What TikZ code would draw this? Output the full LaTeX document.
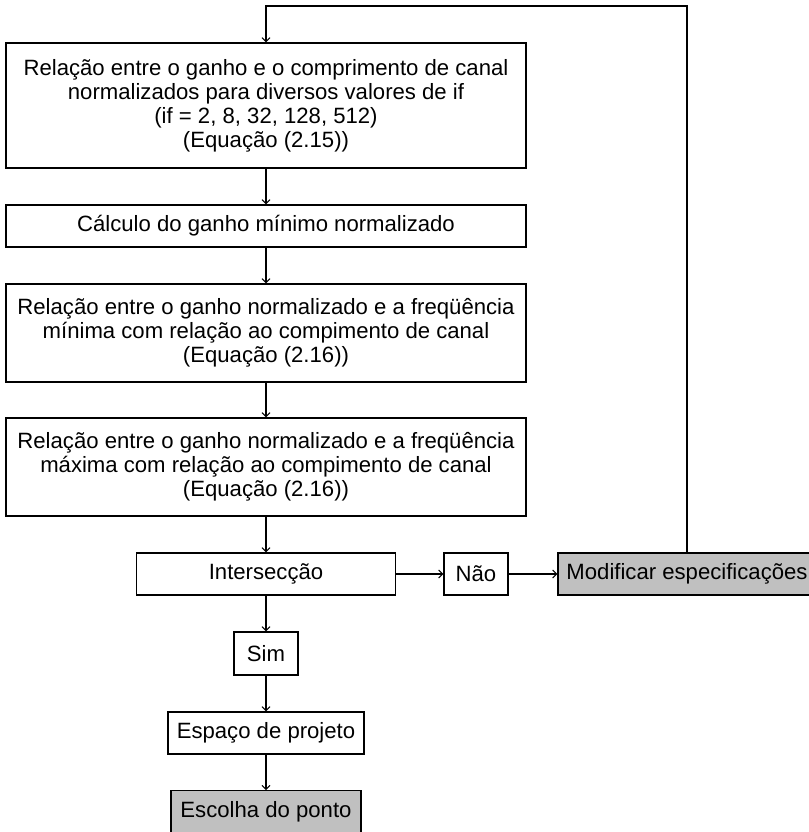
\documentclass[tikz,border=0pt]{standalone}
\usepackage{fontspec}
\setmainfont{Liberation Sans}
\usetikzlibrary{arrows.meta}
\definecolor{cinza}{RGB}{192,192,192}
\tikzset{
  caixa/.style={draw, line width=0.8pt, align=center, inner sep=0pt,
    font=\fontsize{16.6}{18}\selectfont},
  caixacinza/.style={caixa, fill=cinza},
  seta/.style={-{Straight Barb[length=3pt,width=6pt]}, line width=0.8pt}
}
\begin{document}
\begin{tikzpicture}[x=0.75pt,y=-0.75pt]
        \useasboundingbox (0,0) rectangle (808,832);

        % Coluna principal
        \node[caixa, minimum width=390pt, minimum height=93.75pt] (rel1) at (266,105.5)
            {Relação entre o ganho e o comprimento de canal\\normalizados para diversos valores de if\\(if = 2, 8, 32, 128, 512)\\(Equação (2.15))};
        \node[caixa, minimum width=390pt, minimum height=31.5pt] (calc) at (266,226)
            {Cálculo do ganho mínimo normalizado};
        \node[caixa, minimum width=390pt, minimum height=73.5pt] (rel2) at (266,333)
            {Relação entre o ganho normalizado e a freqüência\\mínima com relação ao compimento de canal\\(Equação (2.16))};
        \node[caixa, minimum width=390pt, minimum height=73.5pt] (rel3) at (266,467)
            {Relação entre o ganho normalizado e a freqüência\\máxima com relação ao compimento de canal\\(Equação (2.16))};
        \node[caixa, minimum width=194.25pt, minimum height=31.5pt] (inter) at (266,574) {Intersecção};
        \node[caixa, minimum width=48pt, minimum height=32.25pt] (sim) at (266,653.5) {Sim};
        \node[caixa, minimum width=147pt, minimum height=31.5pt] (esp) at (266,733) {Espaço de projeto};
        \node[caixacinza, minimum width=142.5pt, minimum height=32pt] (esc) at (266,812) {Escolha do ponto};

        % Ramo do "Não"
        \node[caixa, minimum width=48pt, minimum height=31.5pt] (nao) at (476,574) {Não};
        \node[caixacinza, minimum width=193.5pt, minimum height=31.5pt] (mod) at (687,574) {Modificar especificações};
        \coordinate (topo) at (266,6);

        % Setas
        \foreach \a/\b in {rel1/calc, calc/rel2, rel2/rel3, rel3/inter, inter/sim, sim/esp, esp/esc} {
            \draw[seta] (\a) -- (\b);
        }
        \draw[seta] (inter) -- (nao);
        \draw[seta] (nao) -- (mod);
        \draw[seta] (mod.north) |- (topo) -- (rel1.north);

\end{tikzpicture}
\end{document}
